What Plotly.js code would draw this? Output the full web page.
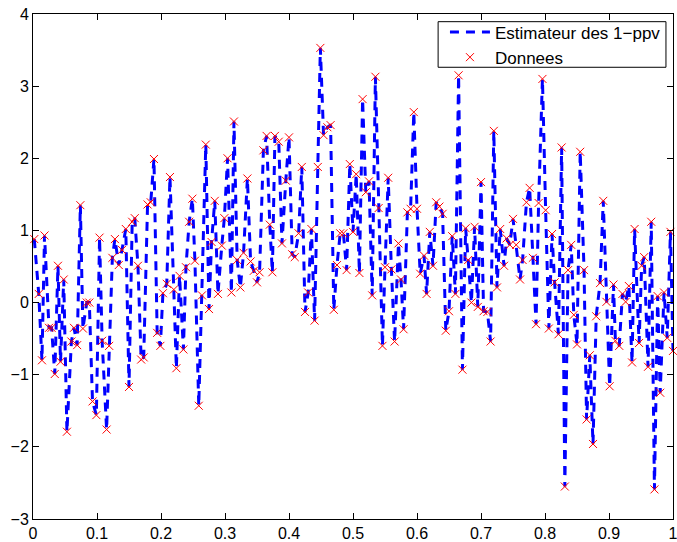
<!DOCTYPE html>
<html>
<head>
<meta charset="utf-8">
<script src="https://cdn.plot.ly/plotly-3.0.1.min.js"></script>
<style>html,body{margin:0;padding:0;background:#fff;}#chart{width:677px;height:542px;}</style>
</head>
<body>
<div id="chart"></div>
<script>
// Data points (sorted by x)
var xData = [
0.002,0.009,0.014,0.018,0.025,0.029,0.034,0.039,0.043,0.048,
0.053,0.060,0.064,0.069,0.074,0.078,0.084,0.088,0.093,0.099,
0.104,0.108,0.115,0.119,0.124,0.128,0.134,0.139,0.145,0.150,
0.155,0.159,0.164,0.169,0.173,0.179,0.184,0.189,0.194,0.199,
0.203,0.209,0.214,0.220,0.224,0.229,0.235,0.239,0.244,0.249,
0.253,0.259,0.264,0.270,0.275,0.279,0.284,0.289,0.295,0.299,
0.304,0.310,0.314,0.319,0.324,0.329,0.335,0.340,0.345,0.350,
0.354,0.360,0.365,0.370,0.374,0.378,0.384,0.389,0.395,0.400,
0.405,0.409,0.415,0.420,0.425,0.430,0.435,0.440,0.445,0.449,
0.454,0.460,0.465,0.470,0.475,0.480,0.485,0.490,0.495,0.500,
0.505,0.510,0.515,0.520,0.525,0.530,0.535,0.540,0.546,0.550,
0.555,0.560,0.565,0.571,0.575,0.579,0.585,0.590,0.595,0.600,
0.605,0.611,0.615,0.620,0.625,0.630,0.635,0.640,0.645,0.650,
0.655,0.660,0.665,0.671,0.676,0.680,0.685,0.690,0.695,0.700,
0.704,0.710,0.715,0.720,0.725,0.730,0.736,0.740,0.745,0.750,
0.755,0.761,0.765,0.771,0.776,0.781,0.786,0.790,0.796,0.801,
0.806,0.811,0.815,0.821,0.826,0.831,0.836,0.841,0.845,0.850,
0.855,0.861,0.865,0.870,0.875,0.880,0.886,0.891,0.896,0.901,
0.907,0.910,0.916,0.921,0.926,0.931,0.936,0.940,0.947,0.951,
0.955,0.961,0.966,0.971,0.976,0.980,0.986,0.991,0.996,1.000
];
var yData = [
0.88,0.12,-0.80,0.93,-0.35,-0.35,-0.99,0.51,-0.82,0.32,
-1.79,-0.54,-0.35,-0.59,1.35,-0.36,0.00,0.00,-1.37,-1.56,
0.90,-0.53,-1.76,-0.60,0.62,0.88,0.52,0.73,1.02,-1.17,
1.12,1.17,0.51,-0.79,-0.76,1.36,1.39,1.99,-0.42,-0.60,
0.13,0.26,1.74,0.18,-0.91,0.37,-0.65,0.49,1.12,1.44,
0.58,-1.43,0.10,2.19,-0.09,0.84,1.41,0.12,0.79,1.17,
2.00,0.14,2.51,0.59,0.21,0.69,1.72,0.57,0.44,0.28,
0.42,2.11,2.31,1.08,0.42,2.31,2.23,0.82,1.69,2.29,
0.67,0.63,0.96,1.88,-0.13,0.14,1.02,-0.25,1.88,3.53,
2.32,2.43,2.46,-0.10,0.52,0.96,0.96,0.45,1.92,0.98,
1.78,0.41,2.82,1.53,1.68,0.10,3.13,1.31,-0.60,0.49,
1.73,0.46,-0.54,0.82,0.32,-0.37,1.25,1.30,2.64,1.30,
0.40,0.65,0.12,0.98,0.51,1.39,1.33,1.23,-0.39,-0.12,
0.92,0.12,3.15,-0.93,1.03,0.59,0.00,1.05,-0.06,1.67,
-0.12,-0.13,-0.54,2.38,0.21,1.02,0.51,0.89,0.80,1.16,
0.80,0.32,0.59,1.39,1.59,0.62,-0.30,1.38,3.10,1.28,
-0.36,0.95,0.28,-0.44,2.15,-2.55,0.45,0.80,-0.17,-0.58,
2.09,0.45,-1.62,-0.73,-1.96,-0.19,0.27,1.41,0.01,-1.16,
0.25,-0.53,-0.60,0.12,0.01,0.23,-0.83,1.02,-0.56,0.51,
0.63,-0.89,1.12,-2.59,0.09,-1.25,0.14,-0.49,0.98,-0.67
];
var xTicks = [0,0.1,0.2,0.3,0.4,0.5,0.6,0.7,0.8,0.9,1];
var xTickText = ["0","0.1","0.2","0.3","0.4","0.5","0.6","0.7","0.8","0.9","1"];
var yTicks = [-3,-2,-1,0,1,2,3,4];
var seriesNames = ["Estimateur des 1\u2212ppv", "Donnees"];

var fam = "Liberation Sans, Arial, Helvetica, sans-serif";
var legendFont = {family: fam, size: 17, color: "#000"};
var tickFont = {family: fam, size: 16, color: "#000"};

var traces = [
  {
    x: xData, y: yData, type: "scatter", mode: "lines", name: seriesNames[0],
    line: {color: "#0000ff", width: 3, dash: "9px,7px"},
    cliponaxis: false
  },
  {
    x: xData, y: yData, type: "scatter", mode: "markers", name: seriesNames[1],
    marker: {symbol: "x-thin", size: 8, color: "#ff0000", line: {color: "#ff0000", width: 1}},
    cliponaxis: false
  }
];

var axisCommon = {
  showline: true, linecolor: "#000", linewidth: 1, mirror: "ticks",
  ticks: "inside", ticklen: 6, tickwidth: 1, tickcolor: "#000",
  showgrid: false, zeroline: false, tickfont: tickFont, automargin: false,
  ticklabeloverflow: "allow"
};

var layout = {
  width: 677, height: 542,
  margin: {l: 33, r: 4, t: 14, b: 23, pad: 0},
  paper_bgcolor: "#fff", plot_bgcolor: "#fff",
  font: tickFont,
  showlegend: true,
  xaxis: Object.assign({}, axisCommon, {range: [0, 1], tickvals: xTicks, ticktext: xTickText}),
  yaxis: Object.assign({}, axisCommon, {range: [-3, 4], tickvals: yTicks}),
  legend: {
    x: 0.989, y: 0.999, xanchor: "right", yanchor: "top",
    bgcolor: "rgba(0,0,0,0)", borderwidth: 0,
    font: legendFont, tracegroupgap: 0, itemwidth: 40
  },
  shapes: [{
    type: "rect", xref: "paper", yref: "paper", layer: "above",
    x0: 0.633, x1: 0.989, y0: 0.8945, y1: 0.9848,
    fillcolor: "#fff", line: {color: "#000", width: 1}
  }]
};

Plotly.newPlot("chart", traces, layout, {displayModeBar: false, staticPlot: true});
</script>
</body>
</html>
